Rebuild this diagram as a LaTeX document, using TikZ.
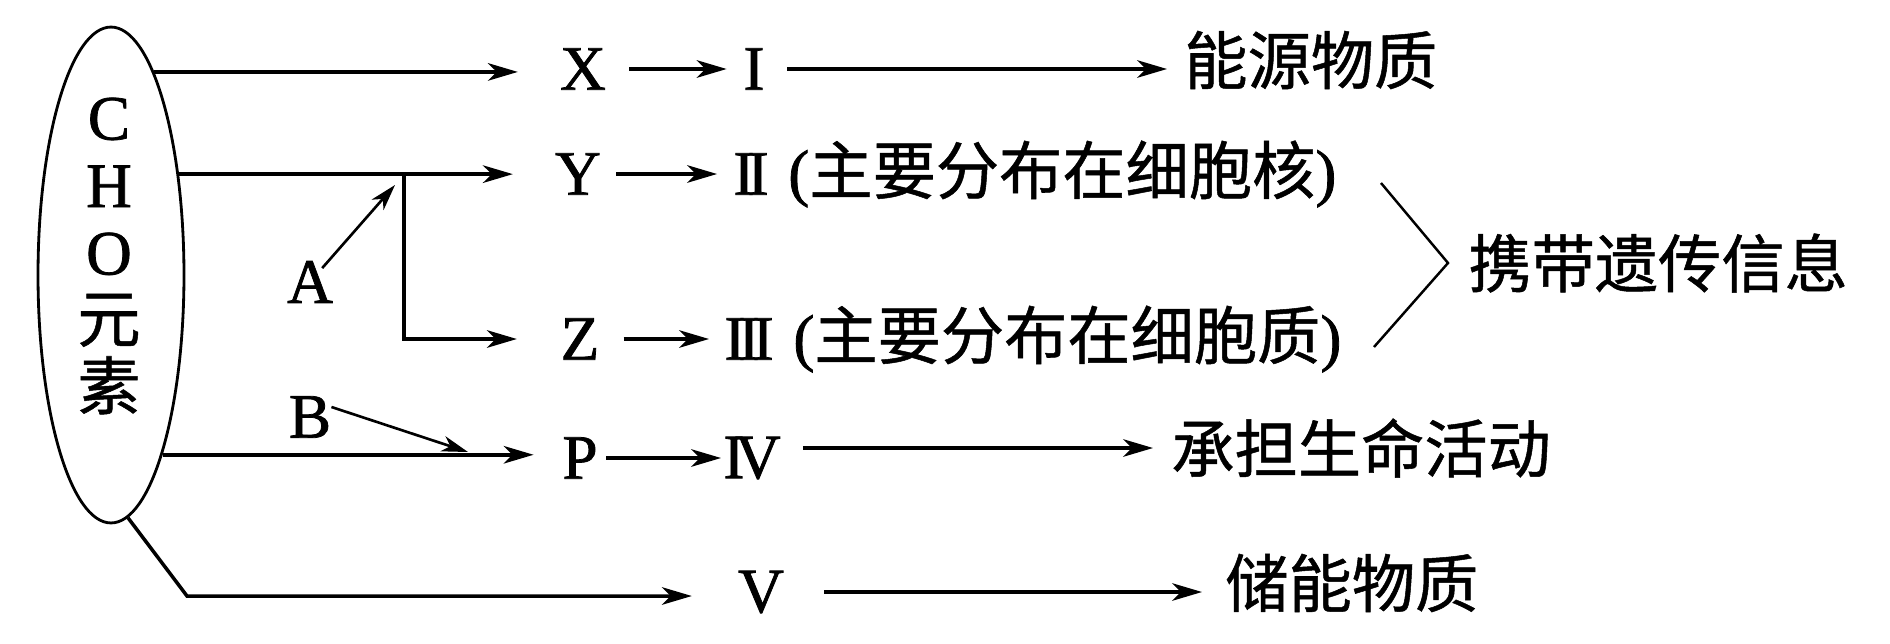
\documentclass[tikz,border=0pt]{standalone}
\usepackage{fontspec}
\setmainfont{Liberation Serif}[FakeBold=1.2]
\newfontfamily\cjk{Noto Sans CJK SC}[FakeBold=0.8]
\usetikzlibrary{arrows.meta,positioning,shapes.geometric}

\begin{document}
\begin{tikzpicture}[
  x=0.02cm, y=-0.02cm,
  lbl/.style={inner sep=0pt, font=\fontsize{36}{38.4}\selectfont},
  zh/.style={inner sep=0pt, font=\fontsize{36}{38.4}\selectfont\cjk},
  arr/.style={-{Stealth[length=17pt, width=10pt, inset=5pt]}, line width=2pt},
  small arr/.style={-{Stealth[length=15pt, width=9pt, inset=4.5pt]}, line width=1.5pt},
  brace/.style={line width=1.4pt}
]
\useasboundingbox (0,0) rectangle (1890,643);

% elements
\node[draw, ellipse, line width=1.6pt, minimum width=2.92cm, minimum height=9.92cm] (cho) at (111,275) {};
\node[lbl, align=center] (elem) at (109,256) {C\\H\\O\\{\cjk 元}\\{\cjk 素}};

% monomers
\node[lbl] (x) at (583,69) {X};
\node[lbl] (y) at (578,174) {Y};
\node[lbl] (z) at (580,339) {Z};
\node[lbl] (p) at (580,458) {P};
\node[lbl] (a) at (310,282) {A};
\node[lbl] (b) at (310,417) {B};

% polymers
\node[lbl] (one) at (754,69) {I};
\node[lbl] (two) at (751,174) {I\kern-.11em I};
\node[lbl] (three) at (749,339) {I\kern-.11em I\kern-.11em I};
\node[lbl] (four) at (752,458) {I\kern-.15em V};
\node[lbl] (five) at (761,592) {V};
\node[lbl, right=0.38cm of two] (nuc) {({\cjk 主要分布在细胞核})};
\node[lbl, right=0.38cm of three] (cyt) {({\cjk 主要分布在细胞质})};

% functions
\node[zh, anchor=west] (energy) at (1184,60) {能源物质};
\node[zh, anchor=west] (info) at (1468,263) {携带遗传信息};
\node[zh, anchor=west] (act) at (1171,448) {承担生命活动};
\node[zh, anchor=west] (store) at (1225,583) {储能物质};

\coordinate (fork) at (404,174);
\coordinate (ahead) at (395,185);
\coordinate (bhead) at (468,452);
\coordinate (bend) at (187,596);
\coordinate (brtop) at (1381,183);
\coordinate (brbot) at (1374,347);

\draw[arr, shorten >=0.84cm] (cho.78.8) -- (cho.78.8 -| x.west);
\draw[arr, shorten <=0.46cm, shorten >=0.33cm] (x) -- (one);
\draw[arr, shorten <=0.45cm, shorten >=0.34cm] (one.east) -- (one.east -| energy.west);

\draw[arr, shorten >=0.84cm] (cho.56.7) -- (cho.56.7 -| y.west);
\draw[arr, shorten >=0.87cm] (fork) |- (z);
\draw[arr, shorten <=0.3cm, shorten >=0.32cm] (y) -- (two);
\draw[arr, shorten <=0.48cm, shorten >=0.3cm] (z) -- (three);
\draw[small arr, shorten <=0.37cm] (a.center) -- (ahead);
\draw[small arr] ([yshift=0.2cm]b.east) -- (bhead);

\draw[arr, shorten >=0.57cm] (cho.-74.9) -- (cho.-74.9 -| p.west);
\draw[arr, shorten <=0.17cm, shorten >=0.04cm] (p) -- (four);
\draw[arr, shorten <=0.44cm, shorten >=0.36cm] (four.east |- act.west) -- (act.west);

\draw[arr, shorten >=0.92cm] (cho.-86.2) -- (bend) -- (bend -| five.west);
\draw[arr, shorten <=0.8cm, shorten >=0.46cm] (five.east) -- (five.east -| store.west);

\draw[brace] (brtop) -- ([xshift=-0.4cm]info.west) -- (brbot);
\end{tikzpicture}
\end{document}
